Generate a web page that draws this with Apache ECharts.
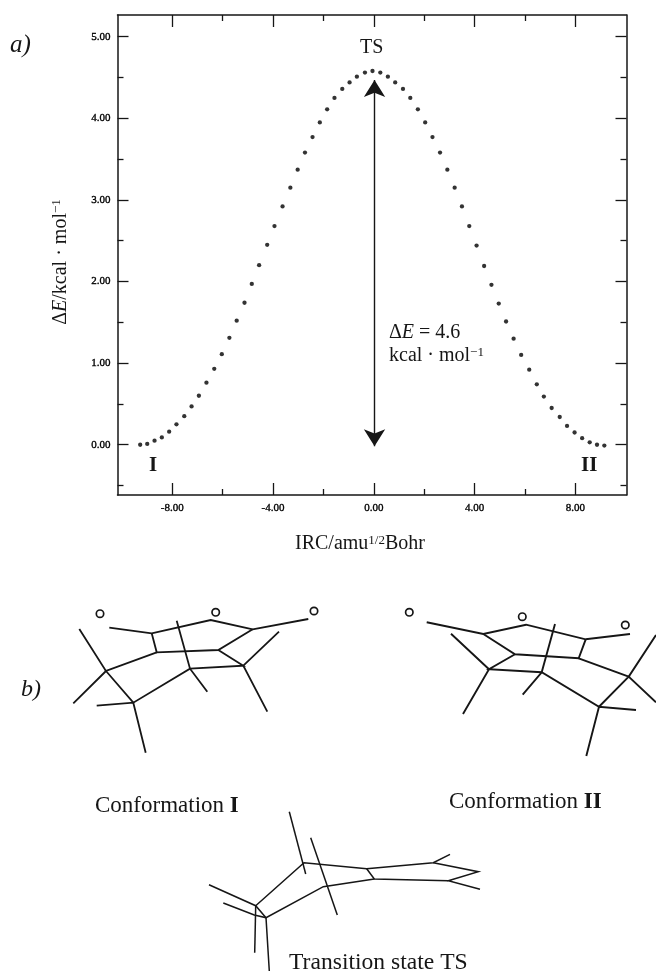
<!DOCTYPE html>
<html>
<head>
<meta charset="utf-8">
<style>html,body{margin:0;padding:0;background:#fff}#c{width:656px;height:974px}</style>
<script src="https://cdn.jsdelivr.net/npm/echarts@6/dist/echarts.min.js"></script>
</head>
<body>
<div id="c"></div>
<script>
// ---- data ----
const ircValues = [-9.27,-8.99,-8.70,-8.41,-8.12,-7.83,-7.52,-7.23,-6.94,-6.64,-6.33,-6.03,-5.73,-5.44,-5.13,-4.84,-4.55,-4.23,-3.94,-3.62,-3.31,-3.02,-2.73,-2.43,-2.14,-1.85,-1.56,-1.25,-0.96,-0.67,-0.35,-0.05,0.26,0.56,0.85,1.16,1.45,1.75,2.04,2.33,2.63,2.92,3.21,3.50,3.79,4.08,4.38,4.67,4.96,5.25,5.55,5.85,6.17,6.47,6.75,7.06,7.38,7.67,7.97,8.27,8.57,8.86,9.15];
const energyValues = [0,0.01,0.05,0.09,0.16,0.25,0.35,0.47,0.60,0.76,0.93,1.11,1.31,1.52,1.74,1.97,2.20,2.45,2.68,2.92,3.15,3.37,3.58,3.77,3.95,4.11,4.25,4.36,4.44,4.51,4.56,4.58,4.56,4.51,4.44,4.36,4.25,4.11,3.95,3.77,3.58,3.37,3.15,2.92,2.68,2.44,2.19,1.96,1.73,1.51,1.30,1.10,0.92,0.74,0.59,0.45,0.34,0.23,0.15,0.08,0.03,0,-0.01];
const xMajorTicks = [-8,-4,0,4,8];
const xMinorTicks = [-6,-2,2,6];
const yMajorTicks = [0,1,2,3,4,5];
const yMinorTicks = [-0.5,0.5,1.5,2.5,3.5,4.5];
const arrowIrc = 0.03;
const arrowTop = 4.47;
const arrowBottom = -0.02;

// ---- structural sketches (panel b) ----
const mol1 = [
 [[109.3,627.7],[151.7,633.3],[210.7,620],[252.7,629.3],[308.3,619]],
 [[151.7,633.3],[156.7,652.3],[218.3,650],[252.7,629.3]],
 [[156.7,652.3],[106,671],[133.3,702.7],[190,668.7],[243.3,665.7],[218.3,650]],
 [[79.3,629],[106,671],[73.3,703.3]],
 [[96.7,705.7],[133.3,702.7],[145.7,752.7]],
 [[176.7,620.7],[190,668.7],[207.3,691.7]],
 [[279,631.7],[243.3,665.7],[267.3,711.7]]
];
const mol1Atoms = [[100,613.7],[215.7,612.3],[314,611]];
const mol2 = [
 [[426.7,622.3],[483.3,634],[526,624.7],[585.7,639.3],[630,634]],
 [[585.7,639.3],[578.7,658.3],[515,654.3],[483.3,634]],
 [[515,654.3],[489,669.3],[541.7,672.3],[599,706.7],[628.7,676.7],[578.7,658.3]],
 [[451,633.7],[489,669.3],[463,714]],
 [[555,624],[541.7,672.3],[522.7,694.7]],
 [[656,635],[628.7,676.7],[656,702.3]],
 [[636,710],[599,706.7],[586.3,756]]
];
const mol2Atoms = [[409.3,612.3],[522.3,616.7],[625.3,625]];
const mol3 = [
 [[289.3,811.7],[305.7,874]],
 [[255.7,905.7],[304,862.7],[366.7,868.7],[433.3,862.7],[450,854.3]],
 [[433.3,862.7],[478.3,871.7],[448.3,880.7],[480,889.3]],
 [[366.7,868.7],[374.3,879],[448.3,880.7]],
 [[374.3,879],[323.3,886.7],[266,917.7],[255.7,905.7],[209,884.7]],
 [[310.7,837.7],[337.3,915]],
 [[223.3,903],[254.3,915],[266,917.7],[269.3,971]],
 [[255.7,905.7],[254.7,952.7]]
];

const INK = '#161616';
const SERIF = '"Liberation Serif","Times New Roman",serif';

const rich = {
  n: {fontFamily:SERIF,fontSize:20,color:INK},
  i: {fontFamily:SERIF,fontSize:20,color:INK,fontStyle:'italic'},
  s: {fontFamily:SERIF,fontSize:13,color:INK,verticalAlign:'top',lineHeight:20},
  b: {fontFamily:SERIF,fontSize:23,color:INK,fontWeight:'bold'},
  m: {fontFamily:SERIF,fontSize:23,color:INK}
};
function t(x,y,text,size,extra){
  return {type:'text',x:x,y:y,silent:true,style:Object.assign({
    text:text,fontFamily:SERIF,fontSize:size,fill:INK,verticalAlign:'middle',align:'left'
  },extra||{})};
}
function strokes(list,w){
  return list.map(p=>({type:'polyline',silent:true,shape:{points:p},style:{stroke:INK,lineWidth:w,fill:null,lineJoin:'miter'}}));
}
function atoms(list){
  return list.map(c=>({type:'circle',silent:true,shape:{cx:c[0],cy:c[1],r:3.7},style:{stroke:INK,lineWidth:1.7,fill:'#fff'}}));
}

const X_MIN=-10.17, X_MAX=10.03, Y_MIN=-0.616, Y_MAX=5.266;
const tickFont = {fontFamily:SERIF,fontSize:11,color:'#000',textBorderColor:'#000',textBorderWidth:0.35,formatter:v=>v.toFixed(2)};
function xAxis(pos,ticks,len,line,labels){
  return {type:'value',position:pos,min:X_MIN,max:X_MAX,scale:true,
    axisLine:{show:line,onZero:false,lineStyle:{color:INK,width:1.5}},
    axisTick:{show:true,inside:true,length:len,customValues:ticks,lineStyle:{color:INK,width:1.3}},
    axisLabel:labels?Object.assign({show:true,customValues:ticks,margin:8},tickFont):{show:false},
    splitLine:{show:false},minorTick:{show:false}};
}
function yAxis(pos,ticks,len,line,labels){
  return {type:'value',position:pos,min:Y_MIN,max:Y_MAX,scale:true,
    axisLine:{show:line,onZero:false,lineStyle:{color:INK,width:1.5}},
    axisTick:{show:true,inside:true,length:len,customValues:ticks,lineStyle:{color:INK,width:1.3}},
    axisLabel:labels?Object.assign({show:true,customValues:ticks,margin:7},tickFont):{show:false},
    splitLine:{show:false},minorTick:{show:false}};
}

const xMain = xAxis('bottom',xMajorTicks,12,true,true);
xMain.name='{n|IRC/amu}{s|1/2}{n|Bohr}';
xMain.nameLocation='middle';
xMain.nameGap=39;
xMain.nameTextStyle={rich:rich,padding:[0,24,0,0]};
const yMain = yAxis('left',yMajorTicks,11,true,true);
yMain.name='{n|Δ}{i|E}{n|/kcal · mol}{s|−1}';
yMain.nameLocation='middle';
yMain.nameGap=47;
yMain.nameTextStyle={rich:rich,padding:[0,14,0,0]};

const chart = echarts.init(document.getElementById('c'),null,{renderer:'canvas',width:656,height:974});
chart.setOption({
  animation:false,
  backgroundColor:'#fff',
  grid:{left:117.5,top:15,width:509,height:480,containLabel:false},
  xAxis:[xMain,xAxis('top',xMajorTicks,12,true,false),xAxis('bottom',xMinorTicks,6,false,false),xAxis('top',xMinorTicks,6,false,false)],
  yAxis:[yMain,yAxis('right',yMajorTicks,11,true,false),yAxis('left',yMinorTicks,6,false,false),yAxis('right',yMinorTicks,6,false,false)],
  series:[{
    type:'scatter',xAxisIndex:0,yAxisIndex:0,symbol:'circle',symbolSize:4.3,
    itemStyle:{color:'#000'},
    data:ircValues.map((x,i)=>[x,energyValues[i]]),
    markLine:{silent:true,animation:false,symbol:['arrow','arrow'],symbolSize:[16,17],label:{show:false},
      lineStyle:{color:INK,width:1.4,type:'solid'},
      emphasis:{disabled:true},
      data:[[{coord:[arrowIrc,arrowTop]},{coord:[arrowIrc,arrowBottom]}]]}
  }],
  graphic:{elements:[].concat(
    strokes(mol1,1.8),atoms(mol1Atoms),strokes(mol2,1.9),atoms(mol2Atoms),strokes(mol3,1.5),
    [
      t(10,45,'a)',25,{fontStyle:'italic'}),
      t(21,690,'b)',24,{fontStyle:'italic'}),
      t(360,48,'TS',20),
      t(149,465.5,'I',21,{fontWeight:'bold'}),
      t(581,465.5,'II',21,{fontWeight:'bold'}),
      t(389,333,'{n|Δ}{i|E}{n| = 4.6}',0,{rich:rich}),
      t(389,356,'{n|kcal · mol}{s|−1}',0,{rich:rich}),
      t(95,806,'{m|Conformation }{b|I}',0,{rich:rich}),
      t(449,802,'{m|Conformation }{b|II}',0,{rich:rich}),
      t(289,962.5,'Transition state TS',23.6)
    ]
  )}
});
</script>
</body>
</html>
